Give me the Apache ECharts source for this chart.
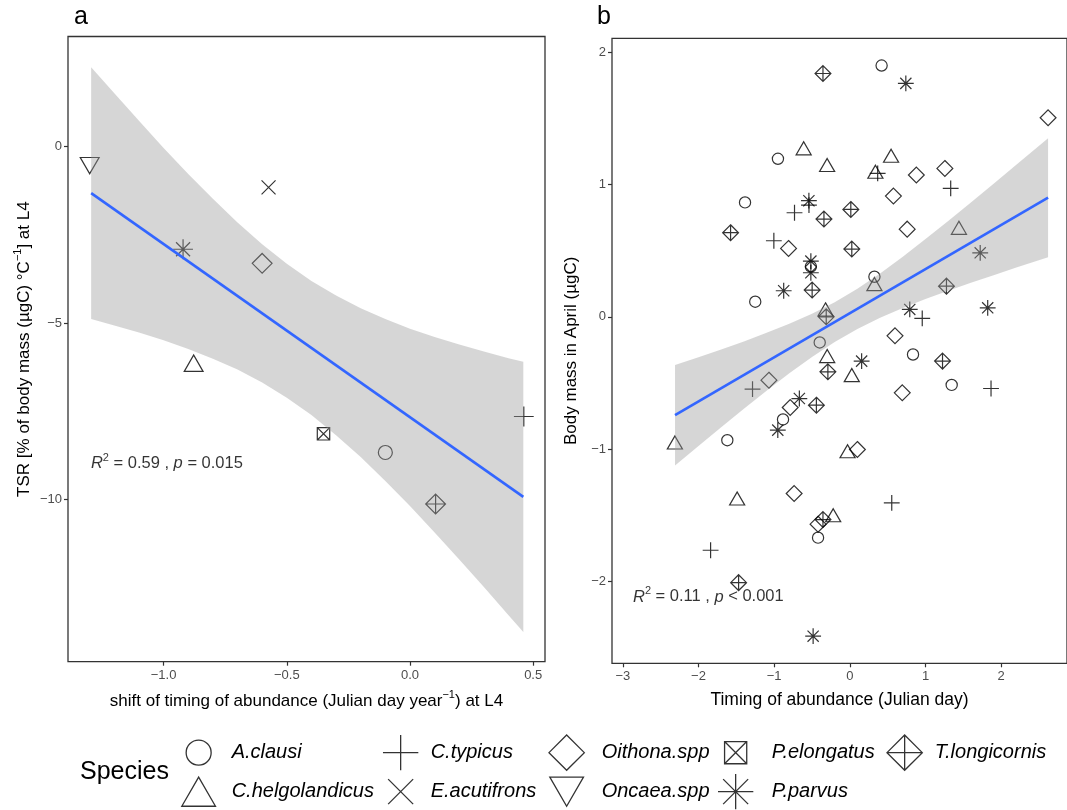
<!DOCTYPE html>
<html><head><meta charset="utf-8">
<script src="https://cdn.jsdelivr.net/npm/echarts@6.0.0/dist/echarts.min.js"></script>
<style>html,body{margin:0;padding:0;background:#fff}#c{width:1067px;height:810px}</style>
</head><body><div id="c"></div>
<script>
// ---------- DATA ----------
const species = ['A.clausi','C.helgolandicus','C.typicus','E.acutifrons','Oithona.spp','Oncaea.spp','P.elongatus','P.parvus','T.longicornis'];

// Panel a: one point per species (same order as species)
const aX = [-0.10, -0.878, 0.462, -0.574, -0.60, -1.30, -0.351, -0.921, 0.104];
const aY = [-8.67, -6.14, -7.65, -1.156, -3.31, -0.54, -8.14, -2.91, -10.13];

// Panel a fitted line and confidence band
const aLineX = [-1.294, 0.46];
const aLineY = [-1.32, -9.93];
const aBandX  = [-1.294,-1.2,-1.1,-1.0,-0.9,-0.8,-0.7,-0.6,-0.5,-0.4,-0.3,-0.2,-0.1,0.0,0.1,0.2,0.3,0.4,0.46];
const aBandLo = [-4.89,-5.07,-5.27,-5.49,-5.735,-6.01,-6.32,-6.69,-7.12,-7.61,-8.18,-8.80,-9.48,-10.19,-10.94,-11.70,-12.48,-13.28,-13.76];
const aBandHi = [2.25,1.51,0.73,-0.04,-0.775,-1.48,-2.15,-2.77,-3.32,-3.81,-4.22,-4.58,-4.89,-5.16,-5.40,-5.61,-5.81,-6.00,-6.10];

// Panel b: points per species [x, y]
const bAclausi = [[0.42,1.90],[-0.95,1.195],[-1.385,0.865],[-1.25,0.114],[0.325,0.303],[-0.398,-0.194],[0.835,-0.285],[1.346,-0.515],[-0.883,-0.776],[-1.619,-0.933],[-0.42,-1.67],[-0.515,0.38]];
const bChelgolandicus = [[-0.61,1.274],[-0.30,1.148],[0.545,1.218],[0.338,1.097],[1.442,0.673],[0.325,0.247],[-0.321,0.056],[-0.299,-0.297],[0.026,-0.441],[-2.312,-0.95],[-0.03,-1.016],[-1.489,-1.374],[-0.22,-1.50]];
const bCtypicus = [[0.368,1.085],[1.333,0.971],[-0.731,0.787],[-0.54,0.845],[-1.004,0.575],[0.957,-0.012],[-1.286,-0.547],[1.866,-0.542],[0.554,-1.407],[-1.84,-1.765]];
const bOithona = [[2.62,1.505],[1.256,1.122],[0.879,1.072],[0.576,0.913],[0.758,0.663],[-0.81,0.517],[0.597,-0.144],[-1.069,-0.479],[0.693,-0.575],[-0.788,-0.686],[0.10,-1.003],[-0.736,-1.336],[-0.42,-1.568]];
const bPparvus = [[0.74,1.765],[-0.541,0.878],[-0.515,0.421],[-0.515,0.333],[-0.874,0.197],[0.792,0.056],[1.822,0.068],[1.723,0.484],[0.156,-0.335],[-0.667,-0.618],[-0.952,-0.857],[-0.485,-2.415]];
const bTlongicornis = [[-0.355,1.84],[-1.576,0.636],[0.013,0.812],[-0.342,0.739],[0.026,0.512],[-0.498,0.202],[-0.312,0.0],[1.277,0.232],[1.225,-0.335],[-0.29,-0.416],[-0.442,-0.668],[-0.355,-1.533],[-1.47,-2.01]];

// Panel b fitted line and confidence band
const bLineX = [-2.31, 2.62];
const bLineY = [-0.744, 0.901];
const bBandX  = [-2.31,-2.0,-1.7,-1.4,-1.1,-0.8,-0.5,-0.2,0.1,0.4,0.7,1.0,1.3,1.6,1.9,2.2,2.62];
const bBandLo = [-1.124,-0.977,-0.836,-0.696,-0.559,-0.427,-0.304,-0.191,-0.093,-0.008,0.067,0.134,0.197,0.257,0.315,0.373,0.451];
const bBandHi = [-0.364,-0.305,-0.247,-0.186,-0.121,-0.053,0.024,0.111,0.213,0.328,0.455,0.588,0.725,0.865,1.007,1.150,1.351];

// Stats labels
const aStat = {x:-1.295, y:-8.97, r2:'0.59', p:'= 0.015'};
const bStat = {x:-2.866, y:-2.118, r2:'0.11', p:'< 0.001'};

// Ticks
const aXTicks = [-1, -0.5, 0, 0.5];
const aXTickLabels = ['\u22121.0','\u22120.5','0.0','0.5'];
const aYTicks = [-10, -5, 0];
const aYTickLabels = ['\u221210','\u22125','0'];
const bXTicks = [-3, -2, -1, 0, 1, 2];
const bXTickLabels = ['\u22123','\u22122','\u22121','0','1','2'];
const bYTicks = [-2, -1, 0, 1, 2];
const bYTickLabels = ['\u22122','\u22121','0','1','2'];

// ---------- STYLE ----------
const FONT = '"Liberation Sans", Arial, sans-serif';
const SHAPE = {
  circle:      {p:'path://M-100,0A100,100 0 1 1 100,0A100,100 0 1 1 -100,0Z', w:2, h:2},
  triangle:    {p:'path://M0,-155.5L134.7,77.8L-134.7,77.8Z', w:2.694, h:2.333},
  plus:        {p:'path://M-141.4,0L141.4,0M0,-141.4L0,141.4', w:2.828, h:2.828},
  cross:       {p:'path://M-100,-100L100,100M-100,100L100,-100', w:2, h:2},
  diamond:     {p:'path://M0,-141.4L141.4,0L0,141.4L-141.4,0Z', w:2.828, h:2.828},
  triangleDown:{p:'path://M0,155.5L134.7,-77.8L-134.7,-77.8Z', w:2.694, h:2.333},
  boxX:        {p:'path://M-88.6,-88.6L88.6,-88.6L88.6,88.6L-88.6,88.6ZM-88.6,-88.6L88.6,88.6M-88.6,88.6L88.6,-88.6', w:1.772, h:1.772},
  asterisk:    {p:'path://M-100,-100L100,100M-100,100L100,-100M-141.4,0L141.4,0M0,-141.4L0,141.4', w:2.828, h:2.828},
  diamondPlus: {p:'path://M0,-141.4L141.4,0L0,141.4L-141.4,0ZM-141.4,0L141.4,0M0,-141.4L0,141.4', w:2.828, h:2.828}
};
const shapeOf = ['circle','triangle','plus','cross','diamond','triangleDown','boxX','asterisk','diamondPlus'];
const Ra = 7, Rb = 5.6, Rl = 12.5;
const markStyle = {color:'transparent', borderColor:'#000', borderWidth:1.2};

const bData = {
  'A.clausi': bAclausi, 'C.helgolandicus': bChelgolandicus, 'C.typicus': bCtypicus,
  'Oithona.spp': bOithona, 'P.parvus': bPparvus, 'T.longicornis': bTlongicornis
};

const series = [];
species.forEach((s, i) => {
  const sh = SHAPE[shapeOf[i]];
  series.push({
    type:'scatter', name:s, xAxisIndex:0, yAxisIndex:0, z:2, silent:true,
    data:[[aX[i], aY[i]]], symbol:sh.p, symbolSize:[sh.w*Ra, sh.h*Ra],
    itemStyle:markStyle, emphasis:{disabled:true}
  });
  if (bData[s]) {
    series.push({
      type:'scatter', name:s, xAxisIndex:1, yAxisIndex:1, z:2, silent:true,
      data:bData[s], symbol:sh.p, symbolSize:[sh.w*Rb, sh.h*Rb],
      itemStyle:markStyle, emphasis:{disabled:true}
    });
  }
});

function bandSeries(idx, bx, lo, hi) {
  return {
    type:'custom', xAxisIndex:idx, yAxisIndex:idx, z:3, silent:true,
    data: bx.map((x, i) => [x, lo[i], hi[i]]),
    encode:{x:0, y:[1,2]},
    renderItem: function (params, api) {
      if (params.dataIndex !== 0) return null;
      const pts = [];
      for (let i = 0; i < bx.length; i++) pts.push(api.coord([bx[i], hi[i]]));
      for (let i = bx.length - 1; i >= 0; i--) pts.push(api.coord([bx[i], lo[i]]));
      return {type:'polygon', shape:{points:pts}, style:{fill:'rgba(153,153,153,0.4)'}};
    }
  };
}
series.push(bandSeries(0, aBandX, aBandLo, aBandHi));
series.push(bandSeries(1, bBandX, bBandLo, bBandHi));

function lineSeries(idx, lx, ly) {
  return {
    type:'line', xAxisIndex:idx, yAxisIndex:idx, z:4, silent:true, symbol:'none',
    data: lx.map((x, i) => [x, ly[i]]),
    lineStyle:{color:'#3366FF', width:2.6}
  };
}
series.push(lineSeries(0, aLineX, aLineY));
series.push(lineSeries(1, bLineX, bLineY));

const statRich = {
  i:{fontStyle:'italic', fontSize:16.5, lineHeight:22, fontFamily:FONT, color:'#000'},
  n:{fontSize:16.5, lineHeight:22, fontFamily:FONT, color:'#000'},
  s:{fontSize:11, lineHeight:11, verticalAlign:'top', fontFamily:FONT, color:'#000'}
};
function statSeries(idx, st) {
  return {
    type:'scatter', xAxisIndex:idx, yAxisIndex:idx, z:5, silent:true,
    data:[[st.x, st.y]], symbolSize:0, itemStyle:{color:'transparent'},
    label:{show:true, position:'right', distance:0,
      formatter:'{i|R}{s|2}{n| = ' + st.r2 + ' , }{i|p}{n| ' + st.p + '}', rich:statRich}
  };
}
series.push(statSeries(0, aStat));
series.push(statSeries(1, bStat));

// Legends: one per species, placed in 2 rows x 5 columns (column-major)
const legendCols = [{cx:198, tx:231},{cx:400, tx:430},{cx:566, tx:601},{cx:735, tx:771},{cx:904, tx:934}];
const legendRows = [752, 791];
const legends = species.map((s, i) => {
  const col = legendCols[Math.floor(i/2)], rowY = legendRows[i%2];
  const sh = SHAPE[shapeOf[i]];
  const icw = sh.w*Rl, ih = sh.h*Rl;
  const iw = 2*(col.tx - 5 - col.cx);
  return {
    data:[{name:s, icon:sh.p}], left:col.cx - icw/2, top:rowY - ih/2,
    itemWidth:iw, itemHeight:ih, padding:0, itemGap:0, selectedMode:false,
    itemStyle:{color:'transparent', borderColor:'#000', borderWidth:1.3},
    textStyle:{fontFamily:FONT, fontSize:20, fontStyle:'italic', color:'#000'}
  };
});

function fmt(ticks, labels) { return v => { const k = ticks.findIndex(t => Math.abs(t - v) < 1e-9); return k >= 0 ? labels[k] : ''; }; }

const axisCommon = {
  type:'value', splitLine:{show:false}, axisLine:{show:false, onZero:false},
  axisTick:{show:true, length:4, lineStyle:{color:'#333', width:1.2}},
  nameLocation:'middle',
  nameTextStyle:{fontFamily:FONT, fontSize:17, color:'#000', lineHeight:24,
    rich:{sup:{fontFamily:FONT, fontSize:11, lineHeight:12, verticalAlign:'top', color:'#000'}}}
};
function mkAxis(o, ticks, labels, margin) {
  return Object.assign({}, axisCommon, o, {
    axisTick:Object.assign({}, axisCommon.axisTick, {customValues:ticks}),
    axisLabel:{customValues:ticks, formatter:fmt(ticks, labels), color:'#4d4d4d', fontSize:13, fontFamily:FONT, margin:margin}
  });
}

const option = {
  backgroundColor:'#fff',
  animation:false,
  textStyle:{fontFamily:FONT},
  title:[
    {text:'a', left:74, top:5, padding:0, textStyle:{fontFamily:FONT, fontSize:25, fontWeight:'normal', color:'#000'}},
    {text:'b', left:597, top:5, padding:0, textStyle:{fontFamily:FONT, fontSize:25, fontWeight:'normal', color:'#000'}},
    {text:'Species', left:80, top:760, padding:0, textStyle:{fontFamily:FONT, fontSize:25, fontWeight:'normal', color:'#000'}}
  ],
  legend:legends,
  grid:[
    {left:68, right:522, top:36.5, bottom:148.3, show:true, borderColor:'#333', borderWidth:1.3, backgroundColor:'transparent'},
    {left:612, right:-8, top:38.3, bottom:146.7, show:true, borderColor:'#333', borderWidth:1.3, backgroundColor:'transparent'}
  ],
  xAxis:[
    mkAxis({gridIndex:0, min:-1.388, max:0.548, name:'shift of timing of abundance (Julian day year{sup|\u22121}) at L4', nameGap:28}, aXTicks, aXTickLabels, 7),
    mkAxis({gridIndex:1, min:-3.143, max:2.87, name:'Timing of abundance (Julian day)', nameGap:25, nameTextStyle:Object.assign({}, axisCommon.nameTextStyle, {fontSize:17.5})}, bXTicks, bXTickLabels, 7)
  ],
  yAxis:[
    mkAxis({gridIndex:0, min:-14.6, max:3.12, name:'TSR [% of body mass (\u00b5gC) \u00b0C{sup|\u22121}] at L4', nameGap:31}, aYTicks, aYTickLabels, 6),
    mkAxis({gridIndex:1, min:-2.62, max:2.106, name:'Body mass in April (\u00b5gC)', nameGap:29}, bYTicks, bYTickLabels, 6)
  ],
  series:series
};

const chart = echarts.init(document.getElementById('c'), null, {renderer:'canvas'});
chart.setOption(option);
</script>
</body></html>
